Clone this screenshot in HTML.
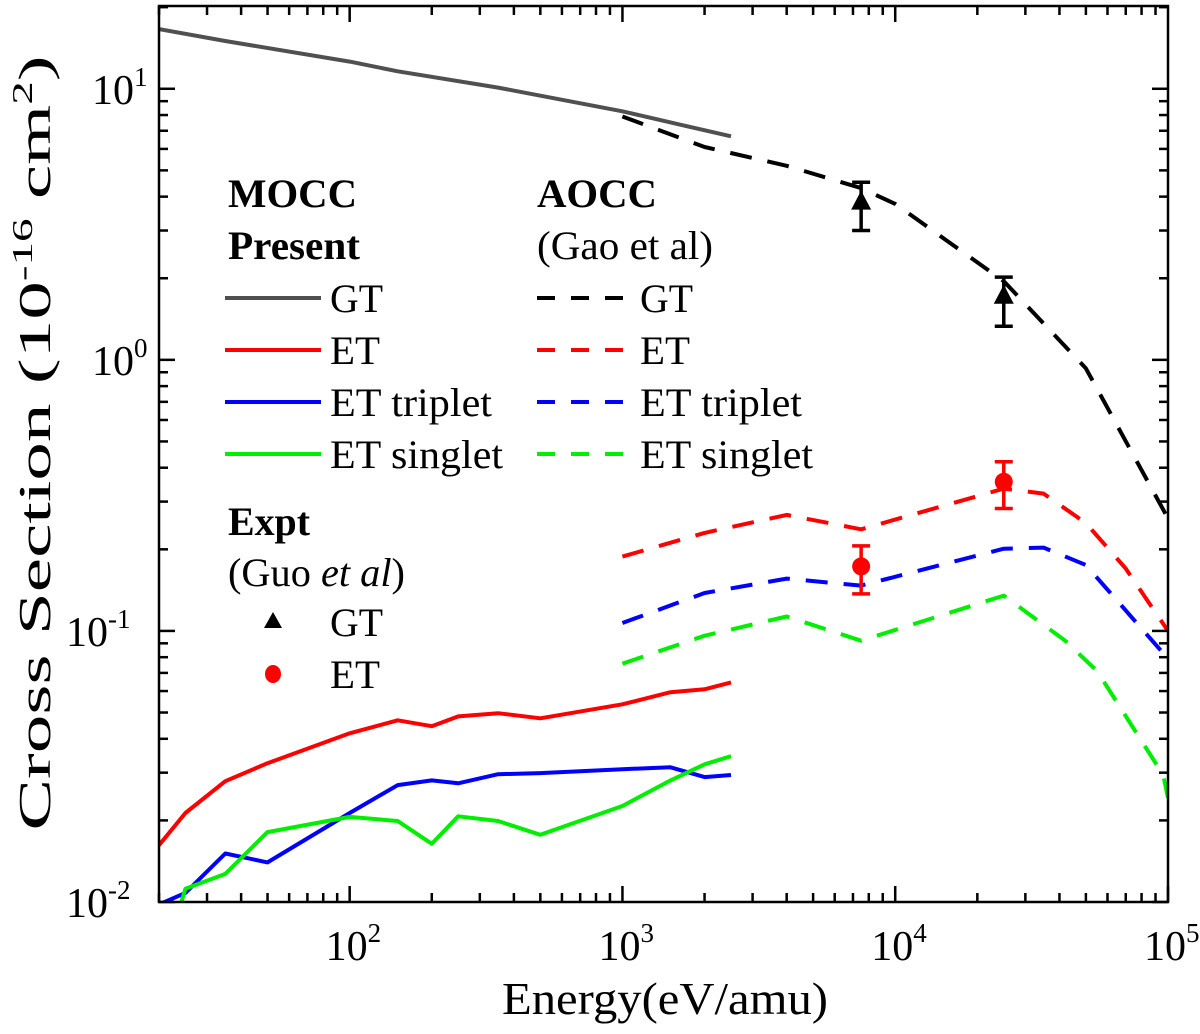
<!DOCTYPE html>
<html><head><meta charset="utf-8">
<style>
html,body{margin:0;padding:0;background:#fff;}
svg{display:block;}
text{font-family:"Liberation Serif","Times New Roman","DejaVu Serif",serif;}
</style></head>
<body>
<svg id="chart" width="1200" height="1034" viewBox="0 0 1200 1034" xmlns="http://www.w3.org/2000/svg" font-family="Liberation Serif, serif">
<g id="marks"></g>
<rect x="159" y="6" width="1009" height="896" fill="none" stroke="#000" stroke-width="2.5"/>
<g id="ticks"></g>
<g id="labels"></g>
<text x="665" y="1014" font-size="46" text-anchor="middle" textLength="326" lengthAdjust="spacingAndGlyphs">Energy(eV/amu)</text>
<text transform="translate(50,443) rotate(-90)" font-size="46" text-anchor="middle" textLength="775" lengthAdjust="spacingAndGlyphs">Cross Section (10<tspan font-size="28" dy="-18">-16</tspan><tspan dy="18"> cm</tspan><tspan font-size="28" dy="-18">2</tspan><tspan dy="18">)</tspan></text>
<g font-size="40">
<text x="228" y="207" font-weight="bold" textLength="129" lengthAdjust="spacingAndGlyphs">MOCC</text>
<text x="228" y="259" font-weight="bold" textLength="132" lengthAdjust="spacingAndGlyphs">Present</text>
<text x="537" y="207" font-weight="bold" textLength="120" lengthAdjust="spacingAndGlyphs">AOCC</text>
<text x="537" y="259" textLength="176" lengthAdjust="spacingAndGlyphs">(Gao et al)</text>
<text x="228" y="535" font-weight="bold" textLength="82" lengthAdjust="spacingAndGlyphs">Expt</text>
<text x="228" y="586" textLength="177" lengthAdjust="spacingAndGlyphs">(Guo <tspan font-style="italic">et al</tspan>)</text>
<g id="legendEntries"></g>
</g>
</svg>
<script>
// ---- data ----
const mgtE = [20,35,100,150,350,1000,1600,2500];
const mgtV = [16.6,15.0,12.6,11.6,10.1,8.26,7.40,6.68];
const metE = [20,25,35,50,100,150,200,250,350,500,1000,1500,2000,2500];
const metV = [0.0162,0.0213,0.0279,0.0325,0.0419,0.0468,0.0445,0.0484,0.0497,0.0476,0.0536,0.0594,0.0609,0.0646];
const mtrE = [20,25,35,50,100,150,200,250,350,500,1000,1500,2000,2500];
const mtrV = [0.0098,0.0108,0.0151,0.0140,0.0213,0.0270,0.0281,0.0274,0.0296,0.0299,0.0309,0.0314,0.0289,0.0294];
const msiE = [24,25,35,50,100,150,200,250,350,500,1000,1500,2000,2500];
const msiV = [0.0098,0.0112,0.0127,0.0181,0.0206,0.0199,0.0164,0.0207,0.0199,0.0177,0.0226,0.0281,0.0322,0.0345];
const agtE = [1000,2000,4000,7500,10000,25000,50000,100000];
const agtV = [7.9,6.1,5.2,4.3,3.76,1.95,0.93,0.26];
const aetE = [1000,2000,4000,7500,25000,35000,50000,70000,100000];
const aetV = [0.188,0.23,0.268,0.237,0.335,0.321,0.25,0.17,0.10];
const atrE = [1000,2000,4000,7500,25000,35000,50000,100000];
const atrV = [0.107,0.138,0.156,0.147,0.201,0.203,0.175,0.079];
const asiE = [1000,2000,4000,7500,25000,42000,55000,96000,100000];
const asiV = [0.0757,0.096,0.113,0.092,0.135,0.092,0.071,0.0294,0.0242];
const exGtE = [7500,25000];
const exGtV = [3.8,1.71];
const exGtLo = [3.0,1.33];
const exGtHi = [4.52,2.02];
const exEtE = [7500,25000];
const exEtV = [0.173,0.355];
const exEtLo = [0.137,0.283];
const exEtHi = [0.206,0.421];
const xTickLabels = ['2','3','4','5'];
const yTickLabels = ['1','0','-1','-2'];

// ---- axes ----
const X0=159, X1=1168, Y0=6, Y1=902;
const xMin=Math.log10(20), xMax=5;
const yMin=-2, yMax=Math.log10(20.2);
function sx(e){return X0+(Math.log10(e)-xMin)/(xMax-xMin)*(X1-X0);}
function sy(v){return Y1-(Math.log10(v)-yMin)/(yMax-yMin)*(Y1-Y0);}
const NS='http://www.w3.org/2000/svg';
function mk(tag,attrs,parent){const el=document.createElementNS(NS,tag);for(const k in attrs)el.setAttribute(k,attrs[k]);parent.appendChild(el);return el;}
const marks=document.getElementById('marks');
const clip=mk('clipPath',{id:'pc'},marks);
mk('rect',{x:X0,y:Y0,width:X1-X0,height:Y1-Y0},clip);
const plot=mk('g',{'clip-path':'url(#pc)'},marks);

function series(E,V,color,dash,name){
  const d=E.map((e,i)=>(i?'L':'M')+sx(e).toFixed(1)+' '+sy(V[i]).toFixed(1)).join(' ');
  const p=mk('path',{d:d,fill:'none',stroke:color,'stroke-width':4,'stroke-linejoin':'round'},plot);
  if(dash)p.setAttribute('stroke-dasharray','22 16');
  
  
}
series(mgtE,mgtV,'#505050',null,'mocc-gt-line');
series(metE,metV,'#ff0000',null,'mocc-et-line');
series(mtrE,mtrV,'#0000ff',null,'mocc-et-triplet-line');
series(msiE,msiV,'#00ee00',null,'mocc-et-singlet-line');
series(agtE,agtV,'#000000',true,'aocc-gt-line');
series(aetE,aetV,'#ff0000',true,'aocc-et-line');
series(atrE,atrV,'#0000ff',true,'aocc-et-triplet-line');
series(asiE,asiV,'#00ee00',true,'aocc-et-singlet-line');

function errbar(x,lo,hi,color){
  const g=mk('g',{stroke:color,'stroke-width':3.5},plot);
  mk('line',{x1:x,x2:x,y1:sy(lo),y2:sy(hi)},g);
  mk('line',{x1:x-9,x2:x+9,y1:sy(lo),y2:sy(lo)},g);
  mk('line',{x1:x-9,x2:x+9,y1:sy(hi),y2:sy(hi)},g);
  return g;
}
exGtE.forEach((e,i)=>{
  const x=sx(e),y=sy(exGtV[i]);
  const g=errbar(x,exGtLo[i],exGtHi[i],'#000');
  
  
  const t=mk('polygon',{points:`${x},${y-12} ${x-10},${y+7} ${x+10},${y+7}`,fill:'#000'},plot);
  
  
});
exEtE.forEach((e,i)=>{
  const x=sx(e),y=sy(exEtV[i]);
  const g=errbar(x,exEtLo[i],exEtHi[i],'#ff0000');
  
  
  const c=mk('ellipse',{cx:x,cy:y,rx:9,ry:9,fill:'#ff0000'},plot);
  
  
});

// ---- ticks ----
const ticks=document.getElementById('ticks');
const tg=mk('g',{stroke:'#000','stroke-width':2.5},ticks);
for(let dec=1;dec<=4;dec++){for(let m=1;m<10;m++){const e=m*Math.pow(10,dec);if(e<20||e>100000)continue;const x=sx(e);const L=(m===1)?16:9;
  mk('line',{x1:x,x2:x,y1:Y1,y2:Y1-L},tg);mk('line',{x1:x,x2:x,y1:Y0,y2:Y0+L},tg);}}
mk('line',{x1:X1,x2:X1,y1:Y1,y2:Y1-16},tg);
for(let dec=-2;dec<=1;dec++){for(let m=1;m<10;m++){const v=m*Math.pow(10,dec);if(v>20.2)continue;const y=sy(v);const L=(m===1)?16:9;
  mk('line',{x1:X0,x2:X0+L,y1:y,y2:y},tg);mk('line',{x1:X1,x2:X1-L,y1:y,y2:y},tg);}}

// ---- tick labels ----
const labels=document.getElementById('labels');
function powLabel(x,y,s){
  const t=mk('text',{x:x,y:y,'font-size':42},labels);
  const a=mk('tspan',{'font-size':42},t); a.textContent='10';
  const b=mk('tspan',{'font-size':27,dy:-18},t); b.textContent=s;
  return t;
}
xTickLabels.forEach((s,i)=>{
  const e=Math.pow(10,2+i);
  const t=powLabel(sx(e)-24,960,s);
  
  
});
yTickLabels.forEach((s,i)=>{
  const v=Math.pow(10,1-i);
  const t=powLabel(s.length>1?66:92,sy(v)+15,s);
  
  
});

// ---- legend entries ----
const le=document.getElementById('legendEntries');
const legNames=['GT','ET','ET triplet','ET singlet'];
const legW=[53,50,162,173];
const legSolid=['#505050','#ff0000','#0000ff','#00ee00'];
const legDash=['#000000','#ff0000','#0000ff','#00ee00'];
legNames.forEach((n,i)=>{
  const y=298+i*52;
  const a=mk('line',{x1:225,x2:321,y1:y,y2:y,stroke:legSolid[i],'stroke-width':4},le);
  
  
  const t=mk('text',{x:330,y:y+14,textLength:legW[i],lengthAdjust:'spacingAndGlyphs'},le); t.textContent=n;
  
  
  const b=mk('line',{x1:537,x2:630,y1:y,y2:y,stroke:legDash[i],'stroke-width':4,'stroke-dasharray':'18 16'},le);
  
  
  const u=mk('text',{x:640,y:y+14,textLength:legW[i],lengthAdjust:'spacingAndGlyphs'},le); u.textContent=n;
  
  
});
const tri=mk('polygon',{points:'273,612 264,628 282,628',fill:'#000'},le);


const tgt=mk('text',{x:330,y:636,textLength:53,lengthAdjust:'spacingAndGlyphs'},le); tgt.textContent='GT';


const cir=mk('ellipse',{cx:273,cy:674,rx:8,ry:9,fill:'#ff0000'},le);


const tet=mk('text',{x:330,y:688,textLength:50,lengthAdjust:'spacingAndGlyphs'},le); tet.textContent='ET';


</script>
</body></html>
